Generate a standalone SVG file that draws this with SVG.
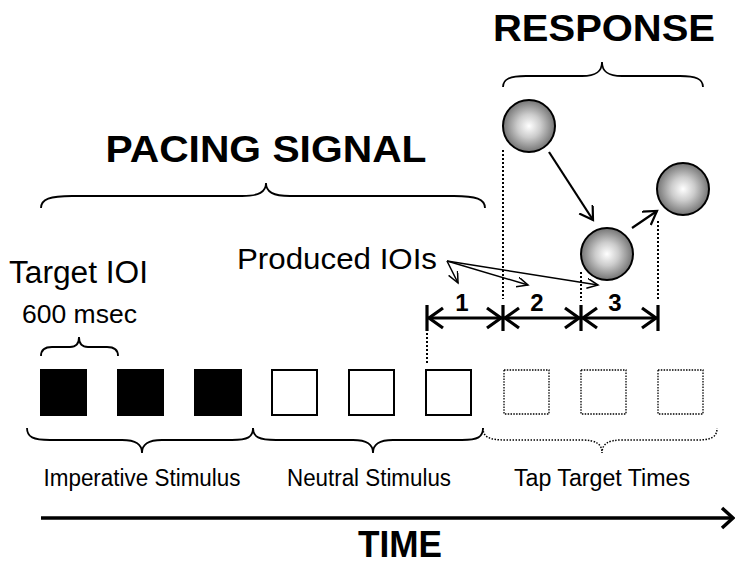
<svg xmlns="http://www.w3.org/2000/svg" width="735" height="566" viewBox="0 0 735 566">
<style>
text{font-family:"Liberation Sans",Arial,Helvetica,sans-serif;fill:#000}
.title{font-weight:bold;font-size:37px;text-anchor:middle}
.lbl{font-size:23px;text-anchor:middle}
.num{font-weight:bold;font-size:24px;text-anchor:middle}
.brace{fill:none;stroke:#000;stroke-width:1.8}
.dbrace{fill:none;stroke:#000;stroke-width:1.5;stroke-dasharray:1.5 1.5}
.filled{fill:#000;stroke:none}
.open{fill:#fff;stroke:#000;stroke-width:2}
.dotted{fill:none;stroke:#000;stroke-width:1.3;stroke-dasharray:1.5 1.3}
.vdot{stroke:#000;stroke-width:2;stroke-dasharray:2 2;fill:none}
.thick{fill:none;stroke:#000;stroke-width:3.2;stroke-linecap:butt;stroke-linejoin:miter}
.thin{fill:none;stroke:#000;stroke-width:1.5}
.ball{fill:url(#sphere);stroke:#000;stroke-width:2}
.barrow{fill:none;stroke:#000;stroke-width:2.2}
</style>
<defs>
<radialGradient id="sphere" cx="50%" cy="50%" r="50%" fx="50%" fy="50%">
<stop offset="0" stop-color="#ffffff"/>
<stop offset="0.45" stop-color="#cccccc"/>
<stop offset="1" stop-color="#747474"/>
</radialGradient>
<marker id="thinHead" markerUnits="userSpaceOnUse" markerWidth="14" markerHeight="12" refX="11" refY="5" orient="auto">
<path d="M0,0 L11,5 L0,10" fill="none" stroke="#000" stroke-width="1.5"/>
</marker>
<marker id="ballHead" markerUnits="userSpaceOnUse" markerWidth="18" markerHeight="18" refX="13" refY="8" orient="auto">
<path d="M0,0 L13,8 L0,16" fill="none" stroke="#000" stroke-width="2.2"/>
</marker>
</defs>

<g id="title-pacing">
<text class="title" x="266" y="162" textLength="321" lengthAdjust="spacingAndGlyphs">PACING SIGNAL</text>
<path class="brace" d="M41,208 C41,199 50,196 72,196 L242,196 C259,196 266,192 266,183 C266,192 273,196 290,196 L454,196 C476,196 485,199 485,208"/>
</g>

<g id="title-response">
<text class="title" x="604" y="41" textLength="222" lengthAdjust="spacingAndGlyphs">RESPONSE</text>
<path class="brace" d="M503,87 C503,79 510,76 526,76 L582,76 C597,76 602,71 602,62 C602,71 607,76 622,76 L680,76 C696,76 703,79 703,87"/>
</g>

<g id="target-ioi">
<text x="9" y="283" font-size="31" textLength="139" lengthAdjust="spacingAndGlyphs">Target IOI</text>
<text x="22" y="323" font-size="25" textLength="115" lengthAdjust="spacingAndGlyphs">600 msec</text>
<path class="brace" d="M41,356 C41,350 44,347 52,347 L70,347 C77,347 79,343 79,337 C79,343 81,347 88,347 L107,347 C115,347 118,350 118,356"/>
</g>

<g id="stimuli">
<rect class="filled" x="40" y="369" width="47" height="47"/>
<rect class="filled" x="117" y="369" width="47" height="47"/>
<rect class="filled" x="194" y="369" width="48" height="47"/>
<rect class="open" x="272" y="370" width="45" height="45"/>
<rect class="open" x="349" y="370" width="45" height="45"/>
<rect class="open" x="426" y="370" width="45" height="45"/>
<rect class="dotted" x="504" y="370" width="45" height="44"/>
<rect class="dotted" x="581" y="370" width="45" height="44"/>
<rect class="dotted" x="658" y="370" width="45" height="44"/>
</g>

<g id="group-imperative">
<path class="brace" d="M27,428 C27,437 33,440 50,440 L122,440 C136,440 142,444 142,453 C142,444 148,440 162,440 L232,440 C248,440 253,437 253,428"/>
<text class="lbl" x="142" y="486" textLength="197" lengthAdjust="spacingAndGlyphs">Imperative Stimulus</text>
</g>

<g id="group-neutral">
<path class="brace" d="M253,428 C253,437 259,440 276,440 L353,440 C367,440 373,444 373,453 C373,444 379,440 393,440 L462,440 C478,440 483,437 483,428"/>
<text class="lbl" x="369" y="486" textLength="164" lengthAdjust="spacingAndGlyphs">Neutral Stimulus</text>
</g>

<g id="group-tap">
<path class="dbrace" d="M483,428 C483,437 489,440 506,440 L582,440 C596,440 602,444 602,453 C602,444 608,440 622,440 L696,440 C712,440 717,437 717,428"/>
<text class="lbl" x="602" y="486" textLength="176" lengthAdjust="spacingAndGlyphs">Tap Target Times</text>
</g>

<g id="ball-1"><circle class="ball" cx="529" cy="126" r="26"/></g>
<g id="ball-2"><circle class="ball" cx="607" cy="254" r="26"/></g>
<g id="ball-3"><circle class="ball" cx="683" cy="189" r="26"/></g>

<g id="produced-iois">
<text x="237" y="269" font-size="30" textLength="200" lengthAdjust="spacingAndGlyphs">Produced IOIs</text>
</g>

<g id="ioi-labels">
<text class="num" x="462" y="311">1</text>
<text class="num" x="537" y="311">2</text>
<text class="num" x="615" y="311">3</text>
</g>

<g id="time-axis">
<text class="title" x="400" y="557" font-size="34" textLength="84" lengthAdjust="spacingAndGlyphs">TIME</text>
</g>

<g id="connectors">
<line class="vdot" x1="503" y1="150" x2="503" y2="299"/>
<line class="vdot" x1="581" y1="272" x2="581" y2="301"/>
<line class="vdot" x1="658" y1="221" x2="658" y2="301"/>
<line class="vdot" x1="427" y1="333" x2="427" y2="363"/>
<line class="barrow" x1="549" y1="152" x2="593" y2="220" marker-end="url(#ballHead)"/>
<line class="barrow" x1="632" y1="228" x2="657" y2="211" marker-end="url(#ballHead)"/>
<line class="thin" x1="447" y1="261" x2="458" y2="283" marker-end="url(#thinHead)"/>
<line class="thin" x1="447" y1="261" x2="528" y2="285" marker-end="url(#thinHead)"/>
<line class="thin" x1="447" y1="261" x2="598" y2="285" marker-end="url(#thinHead)"/>
<line class="thick" x1="427" y1="318" x2="658" y2="318"/>
<line class="thick" x1="427" y1="305" x2="427" y2="331"/>
<line class="thick" x1="503" y1="305" x2="503" y2="331"/>
<line class="thick" x1="581" y1="305" x2="581" y2="331"/>
<line class="thick" x1="658" y1="305" x2="658" y2="331"/>
<path class="thick" d="M443,308 L429,318 L443,328"/>
<path class="thick" d="M487,308 L501,318 L487,328"/>
<path class="thick" d="M519,308 L505,318 L519,328"/>
<path class="thick" d="M565,308 L579,318 L565,328"/>
<path class="thick" d="M597,308 L583,318 L597,328"/>
<path class="thick" d="M642,308 L656,318 L642,328"/>
<line x1="41" y1="518" x2="732" y2="518" stroke="#000" stroke-width="3.5"/>
<path d="M722,508 L733,518 L722,528" fill="none" stroke="#000" stroke-width="3.5"/>
</g>
</svg>
